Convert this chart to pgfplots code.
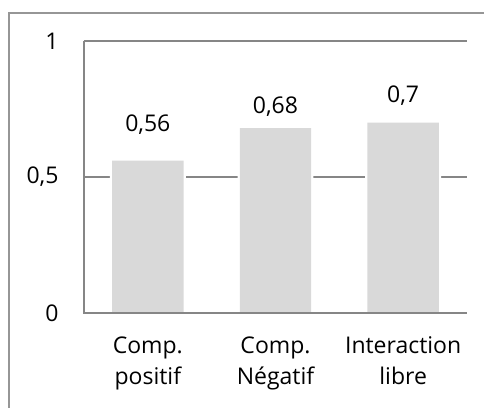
\documentclass[border=0pt]{standalone}
\usepackage{pgfplots}
\pgfplotsset{compat=1.18}
\usepackage{pgfplotstable}
\usepackage{fontspec}
\setmainfont{Open Sans}
\definecolor{barfill}{RGB}{217,217,217}
\definecolor{gridgray}{RGB}{134,134,134}
\definecolor{framegray}{RGB}{150,150,150}

% x, value, label shift above bar top (bp)
\pgfplotstableread{
x  y     shift
0  0.56  36
1  0.68  21
2  0.70  27
}\scores

\begin{document}
\begin{tikzpicture}
\useasboundingbox (-84bp,-95bp) rectangle (400bp,313bp);
\begin{axis}[
    at={(0,0)}, anchor=south west,
    scale only axis,
    width=383bp, height=272bp,
    xmin=-0.5, xmax=2.5,
    ymin=0, ymax=1,
    ytick={0,0.5,1},
    xtick={0,1,2},
    xticklabels={{Comp.\\positif},{Comp.\\Négatif},{Interaction\\libre}},
    axis x line=bottom, axis y line=left,
    axis line style={gridgray, line width=1.5bp, -},
    ymajorgrids,
    major grid style={gridgray, line width=1.5bp},
    major tick length=0pt,
    /pgf/number format/use comma,
    /pgf/number format/assume math mode=true,
    font=\fontsize{23bp}{31bp}\selectfont,
    yticklabel style={anchor=east, xshift=-22bp},
    xticklabel style={align=center, anchor=north, yshift=-20bp},
    clip=false,
]
% narrow white halo round each bar, breaking the grid line
\addplot[ybar, bar shift=0pt, bar width=0.595, fill=white, draw=none]
    table[x=x, y=y] {\scores};
\addplot[ybar, bar shift=0pt, bar width=0.56, fill=barfill, draw=none,
    nodes near coords,
    visualization depends on={\thisrow{shift} \as \labelshift},
    every node near coord/.append style={anchor=center, yshift=\labelshift*1bp, font=\fontsize{23bp}{27bp}\selectfont},
] table[x=x, y=y] {\scores};
\draw[gridgray, line width=1.5bp] (rel axis cs:0,1) -- (rel axis cs:0,0) -- (rel axis cs:1,0);
\end{axis}
\draw[framegray, line width=1.5bp] (-75bp,-95bp) -- (-75bp,300bp) -- (400bp,300bp);
\end{tikzpicture}
\end{document}
